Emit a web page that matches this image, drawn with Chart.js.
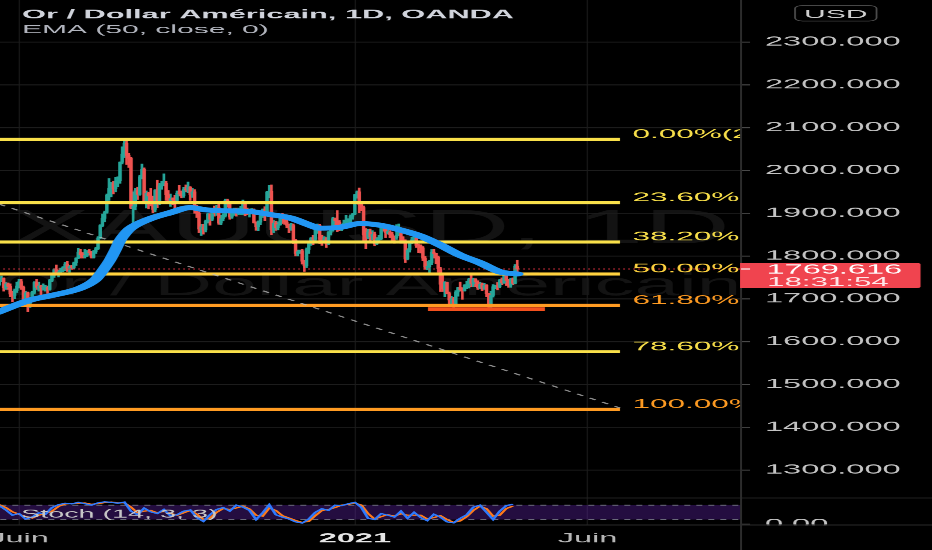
<!DOCTYPE html>
<html>
<head>
<meta charset="utf-8">
<script src="https://cdn.jsdelivr.net/npm/chart.js"></script>
<style>
  html, body { margin: 0; padding: 0; background: #000; overflow: hidden; }
  #wrap { width: 932px; height: 550px; overflow: hidden; }
  #chart { display: block; transform-origin: 0 0; transform: scaleX(2.4987); }
</style>
</head>
<body>
<div id="wrap"><canvas id="chart" width="373" height="550"></canvas></div>
<script>
// daily candles, 19 May 2020 -> 16 Apr 2021 (bar index = position)
const opens = [1733,1745,1748,1726,1735,1729,1711,1708,1719,1730,1740,1727,1699,1714,1684,1698,1715,1738,1727,1730,
  1726,1727,1727,1722,1743,1755,1768,1761,1763,1771,1772,1781,1770,1775,1773,1784,1795,1809,1803,1799,
  1802,1810,1808,1797,1810,1817,1842,1871,1888,1902,1942,1958,1970,1957,1975,1976,2019,2038,2063,2035,
  2028,1912,1916,1953,1944,1985,2002,1929,1946,1940,1930,1909,1953,1928,1964,1967,1970,1943,1930,1934,
  1931,1930,1947,1945,1941,1956,1954,1960,1944,1950,1912,1900,1863,1868,1861,1881,1898,1886,1906,1900,
  1913,1877,1887,1894,1930,1922,1891,1902,1908,1899,1905,1907,1925,1904,1902,1902,1908,1878,1868,1879,
  1894,1909,1904,1949,1951,1862,1877,1866,1873,1889,1887,1879,1872,1866,1871,1837,1806,1810,1812,1788,
  1777,1815,1830,1841,1839,1863,1871,1839,1837,1840,1828,1855,1861,1887,1882,1879,1862,1873,1877,1877,
  1878,1893,1898,1943,1950,1920,1913,1849,1844,1856,1845,1851,1828,1840,1840,1871,1870,1855,1856,1850,
  1844,1843,1848,1860,1837,1835,1793,1814,1832,1838,1842,1825,1824,1819,1795,1774,1775,1784,1809,1806,
  1797,1770,1734,1723,1738,1712,1697,1700,1683,1716,1726,1722,1719,1731,1731,1745,1736,1745,1739,1726,
  1734,1725,1732,1712,1684,1708,1728,1729,1728,1744,1737,1756,1743,1732,1745,1736,1776];
const highs = [1750,1753,1749,1738,1737,1735,1717,1723,1739,1745,1745,1730,1718,1716,1701,1718,1740,1745,1739,1732,
  1735,1732,1730,1746,1758,1770,1779,1767,1772,1775,1785,1788,1778,1778,1786,1796,1818,1816,1808,1815,
  1813,1815,1811,1813,1820,1845,1873,1898,1905,1945,1981,1972,1975,1984,1985,2020,2055,2069,2075,2040,
  2031,1950,1958,1961,1989,2015,2006,1952,1949,1958,1940,1955,1977,1970,1975,1992,1974,1953,1945,1936,
  1942,1952,1965,1952,1960,1966,1973,1962,1958,1955,1918,1903,1874,1874,1884,1900,1899,1909,1917,1918,
  1921,1895,1899,1933,1933,1925,1908,1912,1912,1912,1916,1931,1926,1912,1910,1911,1910,1880,1882,1898,
  1910,1915,1951,1965,1966,1883,1881,1880,1893,1900,1894,1885,1875,1876,1875,1839,1814,1814,1816,1790,
  1819,1832,1843,1848,1865,1875,1874,1848,1845,1843,1857,1867,1890,1889,1906,1883,1875,1884,1895,1887,
  1896,1900,1944,1952,1959,1925,1917,1864,1862,1863,1859,1856,1843,1848,1872,1875,1873,1867,1859,1856,
  1847,1873,1875,1863,1845,1838,1817,1835,1844,1855,1849,1828,1826,1822,1799,1787,1790,1815,1816,1806,
  1800,1774,1760,1740,1739,1716,1706,1703,1719,1727,1739,1726,1733,1741,1748,1755,1748,1747,1742,1739,
  1737,1736,1733,1713,1718,1733,1731,1738,1746,1749,1758,1759,1746,1748,1749,1780,1790];
const lows = [1730,1740,1718,1722,1722,1705,1693,1700,1715,1725,1722,1693,1696,1670,1680,1695,1711,1722,1718,1704,
  1720,1718,1713,1720,1740,1750,1757,1751,1757,1763,1766,1764,1762,1769,1770,1778,1794,1795,1795,1795,
  1799,1802,1795,1795,1806,1815,1840,1868,1880,1900,1930,1938,1945,1950,1962,1970,2015,2030,2014,2007,
  1911,1863,1908,1932,1942,1980,1925,1912,1910,1917,1901,1903,1913,1920,1956,1964,1930,1924,1916,1920,
  1902,1925,1940,1936,1937,1950,1948,1930,1937,1900,1890,1855,1848,1851,1856,1877,1872,1883,1893,1895,
  1874,1873,1882,1891,1914,1886,1888,1895,1893,1897,1897,1896,1894,1897,1891,1898,1877,1860,1859,1873,
  1890,1883,1904,1936,1850,1855,1860,1861,1872,1876,1874,1866,1855,1860,1829,1800,1800,1806,1781,1764,
  1773,1806,1825,1826,1834,1853,1829,1825,1832,1820,1826,1849,1858,1872,1857,1859,1859,1870,1871,1873,
  1876,1886,1897,1935,1901,1906,1835,1817,1841,1836,1838,1824,1827,1834,1838,1858,1843,1851,1843,1832,
  1830,1839,1847,1830,1830,1785,1791,1809,1829,1835,1820,1808,1807,1789,1769,1768,1760,1780,1795,1782,
  1762,1717,1717,1705,1712,1687,1687,1676,1682,1706,1718,1699,1718,1724,1725,1728,1728,1728,1722,1723,
  1719,1722,1705,1680,1677,1704,1724,1721,1726,1733,1736,1731,1727,1727,1733,1735,1760];
const closes = [1745,1748,1726,1735,1729,1711,1708,1719,1730,1740,1727,1699,1714,1684,1698,1715,1738,1727,1730,1726,
  1727,1727,1722,1743,1755,1768,1761,1763,1771,1772,1781,1770,1775,1773,1784,1795,1809,1803,1799,1802,
  1810,1808,1797,1810,1817,1842,1871,1888,1902,1942,1958,1970,1957,1975,1976,2019,2038,2063,2035,2028,
  1912,1916,1953,1944,1985,2002,1929,1946,1940,1930,1909,1953,1928,1964,1967,1970,1943,1930,1934,1931,
  1930,1947,1945,1941,1956,1954,1960,1944,1950,1912,1900,1863,1868,1861,1881,1898,1886,1906,1900,1913,
  1877,1887,1894,1930,1922,1891,1902,1908,1899,1905,1907,1925,1904,1902,1902,1908,1878,1868,1879,1894,
  1909,1904,1949,1951,1862,1877,1866,1873,1889,1887,1879,1872,1866,1871,1837,1806,1810,1812,1788,1777,
  1815,1830,1841,1839,1863,1871,1839,1837,1840,1828,1855,1861,1887,1882,1879,1862,1873,1877,1877,1878,
  1893,1898,1943,1950,1920,1913,1849,1844,1856,1845,1851,1828,1840,1840,1871,1870,1855,1856,1850,1844,
  1843,1848,1860,1837,1835,1793,1814,1832,1838,1842,1825,1824,1819,1795,1774,1775,1784,1809,1806,1797,
  1770,1734,1723,1738,1712,1697,1700,1683,1716,1726,1722,1719,1731,1731,1745,1736,1745,1739,1726,1734,
  1725,1732,1712,1684,1708,1728,1729,1728,1744,1737,1756,1743,1732,1745,1736,1776,1769.616];

// EMA (50, close)
const emaBars = [-1,14,25,37,43.6,46,48,50.5,53,55,57.3,59.6,68.7,77.8,86.9,93.7,100.6,114.2,123.3,132.5,
  141.6,146.1,155.2,164.4,173.5,182.6,191.7,200.8,209.9,219,228.1,236];
const emaValues = [1668,1697,1709,1725,1744,1758,1772,1791,1815,1836,1852,1864,1887,1901,1913,1908,1906,1904,1897,1889,
  1872,1865,1867,1876,1872,1861,1847,1826,1802,1784,1763,1758];

// Fibonacci retracement
const fibNames = ['0.00%', '23.60%', '38.20%', '50.00%', '61.80%', '78.60%', '100.00%'];
const fibPrices = [2072.6, 1924.6, 1832.7, 1757.9, 1684.8, 1576.4, 1441.8];
const fibEndBar = 282.8;

// other drawings
const trendBars = [0, 282.8];
const trendPrices = [1921, 1445];
const supportBars = [195.3, 248.6];
const supportPrice = 1676;
const countdown = '18:31:54';

// Stoch (14, 3, 3), one sample every 3 bars
const stochK = [78,60,38,45,22,30,48,42,70,82, 88,85,92,86,80,90,94,92,88,93, 55,40,68,52,45,62,35,40,55,60,
  28,12,40,62,70,55,80,72,58,20, 48,82,40,30,22,10,5,22,50,65, 58,80,78,86,92,70,25,20,45,38,
  30,55,25,50,28,15,42,30,10,6, 25,40,72,80,50,20,55,78,84];
const stochD = [82,70,52,42,32,26,38,45,55,75, 85,86,88,89,84,86,91,93,90,90, 72,48,55,58,48,54,46,38,48,58,
  42,20,26,50,66,62,68,76,64,38, 34,68,58,36,26,16,8,12,36,58, 62,70,80,83,89,80,45,22,32,40,
  34,44,38,38,38,22,28,36,20,8, 14,32,58,76,65,34,38,66,76];
const stochBands = [80, 20];

// time axis
const tickBars = [9, 162, 268];
const tickLabels = ['Juin', '2021', 'Juin'];

const symbolTitle = 'Or / Dollar Américain, 1D, OANDA';
const emaTitle = 'EMA (50, close, 0)';
const stochTitle = 'Stoch (14, 3, 3)';
const watermark = ['XAUUSD, 1D', 'Or / Dollar Américain'];

const UP = '#26a69a', DOWN = '#ef5350';
const fibColors = ['#f9e04a', '#f9e04a', '#f9e04a', '#ffd23f', '#ff9b22', '#f9e04a', '#ff9b22'];
const FONT = '"Liberation Sans", Arial, sans-serif';
Chart.defaults.font.family = FONT;

const lastPrice = closes[closes.length - 1];
const barColors = closes.map((c, i) => c >= opens[i] ? UP : DOWN);

const flat = (price, from, to) => [{x: from, y: price}, {x: to, y: price}];
const lineDs = (data, color, width, order, extra) => Object.assign({
  type: 'line', data: data, borderColor: color, borderWidth: width,
  pointRadius: 0, fill: false, order: order, yAxisID: 'y'
}, extra || {});

const datasets = [
  {
    type: 'bar', data: highs.map((h, i) => ({x: i, y: [lows[i], h]})),
    backgroundColor: barColors, barThickness: 0.4, grouped: false, order: 20, yAxisID: 'y'
  },
  {
    type: 'bar', data: opens.map((o, i) => ({x: i, y: [o, closes[i]]})),
    backgroundColor: barColors, barThickness: 0.72, minBarLength: 0.8, grouped: false, order: 19, yAxisID: 'y'
  },
  lineDs(flat(lastPrice, -5, 340), '#f23645', 1, 15, {borderDash: [0.6, 1.4]}),
  lineDs(flat(stochBands[0], -5, 340), '#6a6a7a', 1, 14,
    {yAxisID: 'y2', borderDash: [2.4, 2.4], fill: '+1', backgroundColor: 'rgba(112, 40, 200, 0.32)'}),
  lineDs(flat(stochBands[1], -5, 340), '#6a6a7a', 1, 13, {yAxisID: 'y2', borderDash: [2.4, 2.4]}),
  lineDs(stochD.map((v, k) => ({x: k * 3, y: v})), '#ff7a1a', 1.2, 12, {yAxisID: 'y2'}),
  lineDs(stochK.map((v, k) => ({x: k * 3, y: v})), '#2f7bff', 1.2, 11, {yAxisID: 'y2'})
];
fibPrices.forEach((p, k) => datasets.push(lineDs(flat(p, -3, fibEndBar), fibColors[k], 3, 8)));
datasets.push(lineDs(flat(supportPrice, supportBars[0], supportBars[1]), '#f4511e', 3.5, 7));
datasets.push(lineDs(trendBars.map((b, k) => ({x: b, y: trendPrices[k]})), 'rgba(190,190,190,0.75)', 1, 6,
  {borderDash: [3, 3.5]}));
datasets.push(lineDs(emaBars.map((b, k) => ({x: b, y: emaValues[k]})), '#2196f3', 5, 5,
  {cubicInterpolationMode: 'monotone', borderCapStyle: 'round'}));

const decor = {
  id: 'decor',
  beforeDraw(chart) {
    const {ctx, chartArea: a, width, height} = chart;
    const y = chart.scales.y;
    ctx.save();
    ctx.fillStyle = '#000';
    ctx.fillRect(0, 0, width, height);
    ctx.beginPath();
    ctx.rect(a.left, a.top, a.right - a.left, y.bottom - a.top);
    ctx.clip();
    ctx.fillStyle = 'rgba(255,255,255,0.075)';
    ctx.textAlign = 'center';
    ctx.textBaseline = 'alphabetic';
    ctx.font = '48px ' + FONT;
    ctx.fillText(watermark[0], (a.left + a.right) / 2, 243);
    ctx.font = '32px ' + FONT;
    ctx.fillText(watermark[1], (a.left + a.right) / 2, 295);
    ctx.restore();
  },
  afterDatasetsDraw(chart) {
    const {ctx, chartArea: a} = chart;
    const x = chart.scales.x, y = chart.scales.y;
    ctx.save();
    ctx.beginPath();
    ctx.rect(a.left, a.top, a.right - a.left, a.bottom - a.top);
    ctx.clip();
    ctx.font = '12.6px ' + FONT;
    ctx.textAlign = 'left';
    ctx.textBaseline = 'alphabetic';
    const lx = x.getPixelForValue(fibEndBar) + 5;
    fibPrices.forEach((p, k) => {
      ctx.fillStyle = fibColors[k];
      ctx.fillText(fibNames[k] + '(' + p.toFixed(3) + ')', lx, y.getPixelForValue(p) - 1.5);
    });
    ctx.fillStyle = '#c8c8c8';
    ctx.font = '11.5px ' + FONT;
    ctx.fillText(stochTitle, 8.4, 517.5);
    ctx.restore();
  },
  afterDraw(chart) {
    const {ctx, chartArea: a, width, height} = chart;
    const y = chart.scales.y;
    ctx.save();
    // hide what spills under the pane
    ctx.fillStyle = '#000';
    ctx.fillRect(a.right + 0.8, a.bottom + 0.5, width, height);
    // pane separators and axis line
    ctx.fillStyle = '#272727';
    ctx.fillRect(0, y.bottom - 0.5, width, 1);
    ctx.fillRect(0, a.bottom - 0.5, width, 1);
    ctx.fillStyle = '#2c2c2c';
    ctx.fillRect(a.right, 0, 0.8, height);

    // last price label
    const py = y.getPixelForValue(lastPrice);
    ctx.fillStyle = '#f0444f';
    ctx.beginPath();
    ctx.roundRect(a.right, py - 6, 368.2 - a.right, 25, [0, 1.5, 1.5, 0]);
    ctx.fill();
    ctx.fillStyle = '#fff';
    ctx.fillRect(a.right + 0.4, py - 0.5, 3.6, 1);
    ctx.textAlign = 'left';
    ctx.textBaseline = 'alphabetic';
    ctx.font = '13px ' + FONT;
    ctx.fillText(lastPrice.toFixed(3), 306.6, py + 4.6);
    ctx.fillStyle = '#ffe6e8';
    ctx.font = '12.5px ' + FONT;
    ctx.fillText(countdown, 306.8, py + 17);

    // currency box
    ctx.strokeStyle = '#4d4d4d';
    ctx.lineWidth = 0.7;
    ctx.beginPath();
    ctx.roundRect(318, 5.5, 32.6, 15.5, 3);
    ctx.stroke();
    ctx.fillStyle = '#d0d0d0';
    ctx.textAlign = 'center';
    ctx.font = '12px ' + FONT;
    ctx.fillText('USD', 334.3, 17.8);

    // legend
    ctx.textAlign = 'left';
    ctx.fillStyle = '#d1d4dc';
    ctx.font = 'bold 12.3px ' + FONT;
    ctx.fillText(symbolTitle, 8.8, 18.3);
    ctx.fillStyle = '#b2b5be';
    ctx.font = '12px ' + FONT;
    ctx.fillText(emaTitle, 8.8, 33.2);
    ctx.restore();
  }
};

new Chart(document.getElementById('chart'), {
  type: 'bar',
  data: {datasets: datasets},
  options: {
    responsive: false,
    devicePixelRatio: 2.5,
    animation: false,
    events: [],
    normalized: true,
    layout: {padding: 0},
    plugins: {legend: {display: false}, tooltip: {enabled: false}, title: {display: false}},
    scales: {
      x: {
        type: 'linear', min: 0.344, max: 337.5, offset: false,
        grid: {color: '#1c1c1c', lineWidth: 0.45, drawTicks: false, offset: false},
        border: {display: false},
        afterBuildTicks: s => { s.ticks = tickBars.map(v => ({value: v})); },
        afterFit: s => { s.height = 25; s.paddingLeft = 0; s.paddingRight = 0; },
        ticks: {
          autoSkip: false, maxRotation: 0, padding: 6,
          callback: (v, k) => tickLabels[k],
          color: c => tickLabels[c.index] === '2021' ? '#e6e6e6' : '#b8b8b8',
          font: c => ({size: 13, weight: tickLabels[c.index] === '2021' ? 'bold' : 'normal'})
        }
      },
      y: {
        type: 'linear', position: 'right', stack: 'pane', stackWeight: 498,
        min: 1234.6, max: 2398.1,
        grid: {color: '#1c1c1c', lineWidth: 1, tickLength: 4, tickColor: '#4a4a4a', tickWidth: 1},
        border: {display: false},
        ticks: {stepSize: 100, includeBounds: false, padding: 6, color: '#c4c4c4', font: {size: 13},
          callback: v => v.toFixed(3)},
        afterFit: s => { s.width = 77; s.paddingTop = 0; s.paddingBottom = 0; }
      },
      y2: {
        type: 'linear', position: 'right', stack: 'pane', stackWeight: 27,
        min: -3, max: 110,
        grid: {drawOnChartArea: false, tickLength: 4, tickColor: '#4a4a4a'},
        border: {display: false},
        afterBuildTicks: s => { s.ticks = [{value: 0}]; },
        ticks: {padding: 6, color: '#c4c4c4', font: {size: 13}, callback: () => '0.00'},
        afterFit: s => { s.width = 77; s.paddingTop = 0; s.paddingBottom = 0; }
      }
    }
  },
  plugins: [decor]
});
</script>
</body>
</html>
